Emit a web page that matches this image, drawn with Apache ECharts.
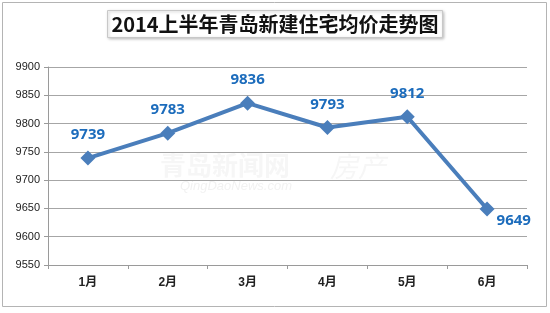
<!DOCTYPE html>
<html><head><meta charset="utf-8">
<script src="https://cdn.jsdelivr.net/npm/echarts@6/dist/echarts.min.js"></script>
<style>html,body{margin:0;padding:0;background:#fff}#c{width:550px;height:313px}</style>
</head><body><div id="c"></div>
<script>
var titleText = '2014上半年青岛新建住宅均价走势图';
var categories = ['1月','2月','3月','4月','5月','6月'];
var prices = [9739, 9783, 9836, 9793, 9812, 9649];
var yMin = 9550, yMax = 9900, yStep = 50;

var chart = echarts.init(document.getElementById('c'), null, {renderer:'canvas'});
var seriesData = prices.map(function(v, i){
  var d = {value: v};
  if (i === prices.length - 1) {
    d.label = {position: 'right', offset: [-6, 12]};
  }
  return d;
});
chart.setOption({
  animation: false,
  backgroundColor: '#fff',
  title: {
    text: titleText,
    left: 'center', top: 10,
    padding: [4, 4, 4, 4],
    borderColor: '#c8c8c8', borderWidth: 1,
    shadowColor: 'rgba(0,0,0,0.25)', shadowBlur: 3, shadowOffsetX: 1, shadowOffsetY: 1,
    backgroundColor: '#fff',
    textStyle: {fontFamily: '"Noto Sans CJK SC", "Liberation Sans", sans-serif', fontWeight: 'bold', fontSize: 20, color: '#111'}
  },
  graphic: [
    {type: 'rect', shape: {x: 2.5, y: 2.5, width: 544, height: 304}, style: {fill: 'none', stroke: '#b4b4b4', lineWidth: 1}, silent: true, z: -1},
    {type: 'text', left: 160, top: 152, style: {text: '青岛新闻网', font: 'bold 26px "Noto Sans CJK SC"', fill: 'rgba(180,180,180,0.12)'}, silent: true, z: -1},
    {type: 'text', left: 330, top: 152, style: {text: '房产', font: 'italic 28px "Noto Sans CJK SC"', fill: 'rgba(180,180,180,0.12)'}, silent: true, z: -1},
    {type: 'text', left: 180, top: 180, style: {text: 'QingDaoNews.com', font: 'italic 13px "Liberation Sans"', fill: 'rgba(180,180,180,0.18)'}, silent: true, z: -1}
  ],
  grid: {left: 48, right: 23, top: 67, bottom: 48, containLabel: false},
  xAxis: {
    type: 'category', data: categories, boundaryGap: true,
    axisLine: {lineStyle: {color: '#9a9a9a', width: 1}},
    axisTick: {show: true, alignWithLabel: false, length: 4, lineStyle: {color: '#9a9a9a'}},
    axisLabel: {margin: 12, fontFamily: '"Liberation Sans", "Noto Sans CJK SC", sans-serif', fontWeight: 'bold', fontSize: 12, color: '#222'}
  },
  yAxis: {
    type: 'value', min: yMin, max: yMax, interval: yStep,
    axisLine: {show: true, lineStyle: {color: '#9a9a9a', width: 1}},
    axisTick: {show: true, length: 4, lineStyle: {color: '#9a9a9a'}},
    splitLine: {show: true, lineStyle: {color: '#a6a6a6', width: 1}},
    axisLabel: {margin: 8, formatter: function(v){ return String(v); }, fontFamily: '"Liberation Sans", sans-serif', fontSize: 11, color: '#222'}
  },
  series: [{
    type: 'line', data: seriesData,
    lineStyle: {color: '#4a7ebb', width: 4},
    itemStyle: {color: '#4a7ebb'},
    symbol: 'diamond', symbolSize: 15,
    label: {show: true, position: 'top', distance: 8, fontFamily: '"Open Sans", "Liberation Sans", sans-serif', fontWeight: 'bold', fontSize: 15, color: '#1c6cbc'}
  }]
});
</script></body></html>
